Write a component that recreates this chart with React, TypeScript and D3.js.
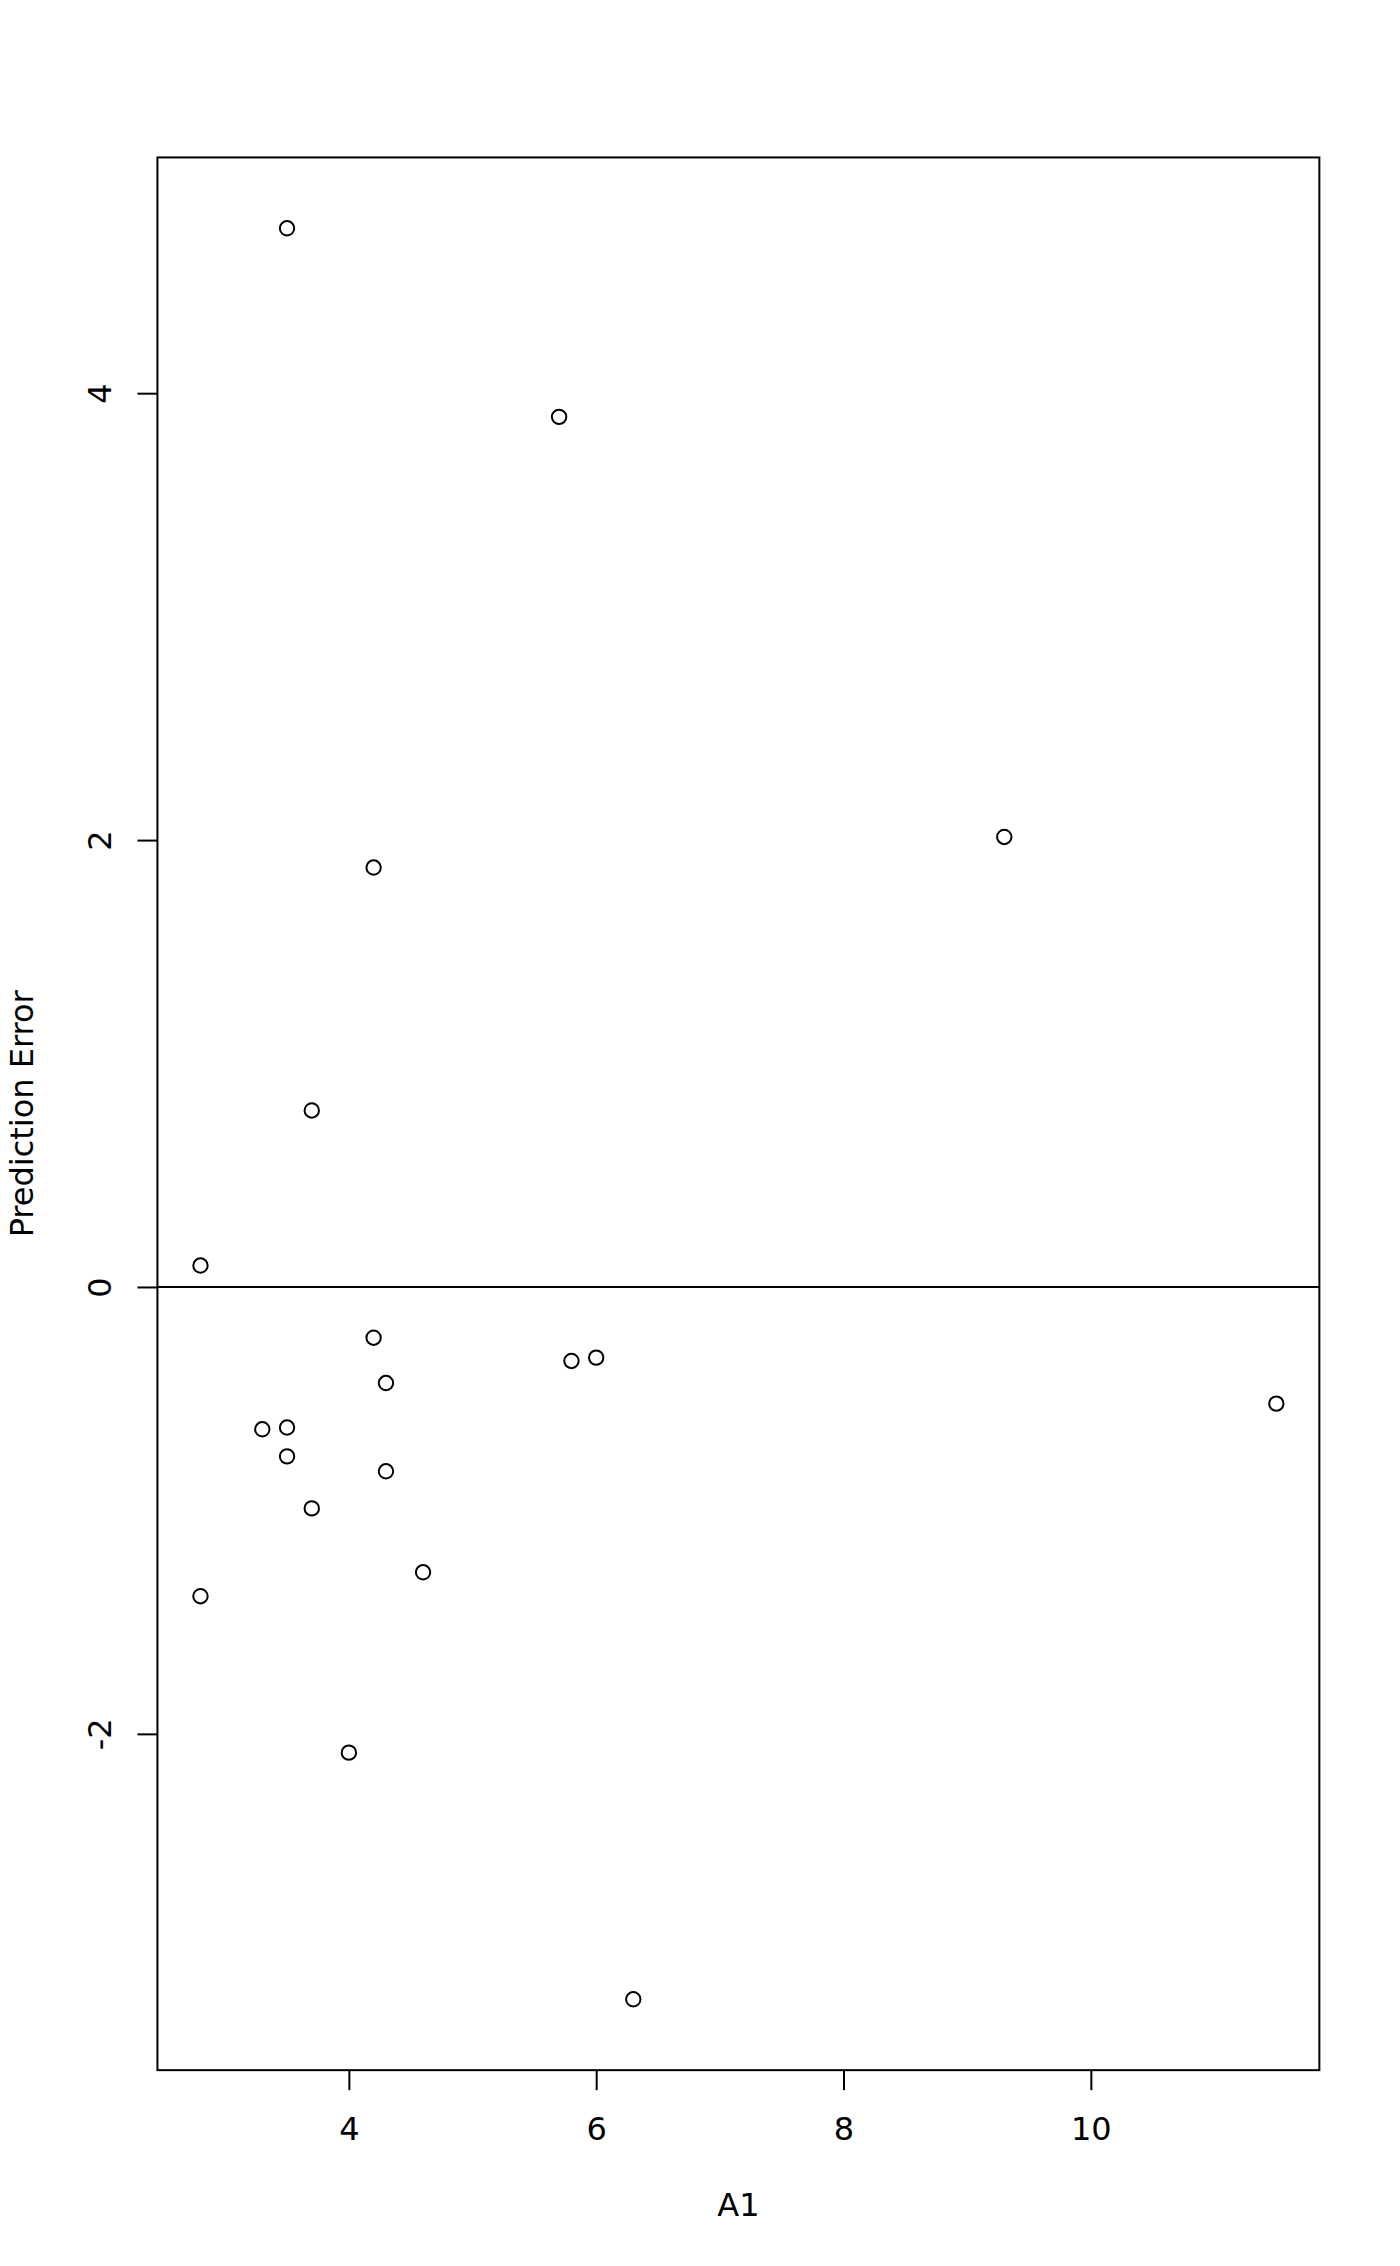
import React, { useEffect, useRef } from 'react';
import * as d3 from 'd3';

// A1 values and prediction errors
const a1 = [3.5, 5.7, 9.3, 4.2, 3.7, 2.8, 4.2, 4.3, 5.8, 6.0, 11.5, 3.3, 3.5, 3.5, 4.3, 3.7, 4.6, 2.8, 4.0, 6.3];
const predError = [4.738, 3.894, 2.014, 1.877, 0.79, 0.096, -0.227, -0.43, -0.331, -0.316, -0.522, -0.637, -0.629, -0.758, -0.825, -0.991, -1.277, -1.384, -2.084, -3.188];

const xTicks = [4, 6, 8, 10];
const yTicks = [-2, 0, 2, 4];

const xLabel = 'A1';
const yLabel = 'Prediction Error';

const App: React.FC = () => {
  const svgRef = useRef<SVGSVGElement>(null);

  useEffect(() => {
    if (!svgRef.current) return;
    d3.select(svgRef.current).selectAll('*').remove();

    const W = 1400;
    const H = 2266;
    const line = 38.4; // one margin line in px
    const margin = { top: 4.1 * line, right: 2.1 * line, bottom: 5.1 * line, left: 4.1 * line };
    const font = 'DejaVu Sans, sans-serif';
    const fontSize = 32;

    const svg = d3.select(svgRef.current).attr('width', W).attr('height', H);
    svg.append('rect').attr('width', W).attr('height', H).attr('fill', '#fff');

    // R style 4% padding on data range
    const pad = (ext: [number, number]): [number, number] => {
      const r = ext[1] - ext[0];
      return [ext[0] - 0.04 * r, ext[1] + 0.04 * r];
    };

    const x = d3
      .scaleLinear()
      .domain(pad(d3.extent(a1) as [number, number]))
      .range([margin.left, W - margin.right]);

    const y = d3
      .scaleLinear()
      .domain(pad(d3.extent(predError) as [number, number]))
      .range([H - margin.bottom, margin.top]);

    const plotBottom = H - margin.bottom;

    // X axis
    const xAxis = svg
      .append('g')
      .attr('transform', `translate(0,${plotBottom})`)
      .call(d3.axisBottom(x).tickValues(xTicks).tickSizeInner(20).tickSizeOuter(0).tickFormat(d => String(d)));
    xAxis.select('.domain').remove();
    xAxis.selectAll('line').attr('stroke', '#000').attr('stroke-width', 2);
    xAxis
      .selectAll('text')
      .attr('y', 70)
      .attr('dy', 0)
      .attr('fill', '#000')
      .attr('font-family', font)
      .attr('font-size', fontSize);

    // Y axis
    const yAxis = svg
      .append('g')
      .attr('transform', `translate(${margin.left},0)`)
      .call(d3.axisLeft(y).tickValues(yTicks).tickSizeInner(20).tickSizeOuter(0).tickFormat(d => String(d)));
    yAxis.select('.domain').remove();
    yAxis.selectAll('line').attr('stroke', '#000').attr('stroke-width', 2);
    yAxis
      .selectAll('text')
      .attr('transform', 'rotate(-90)')
      .attr('x', 0)
      .attr('y', -46.8)
      .attr('dy', 0)
      .attr('text-anchor', 'middle')
      .attr('fill', '#000')
      .attr('font-family', font)
      .attr('font-size', fontSize);

    // Horizontal reference line at 0
    svg
      .append('line')
      .attr('x1', margin.left)
      .attr('x2', W - margin.right)
      .attr('y1', y(0))
      .attr('y2', y(0))
      .attr('stroke', '#000')
      .attr('stroke-width', 2);

    // Points
    svg
      .selectAll('circle.pt')
      .data(a1)
      .enter()
      .append('circle')
      .attr('class', 'pt')
      .attr('cx', d => x(d))
      .attr('cy', (_, i) => y(predError[i]))
      .attr('r', 7.2)
      .attr('fill', 'none')
      .attr('stroke', '#000')
      .attr('stroke-width', 2);

    // Plot box
    svg
      .append('rect')
      .attr('x', margin.left)
      .attr('y', margin.top)
      .attr('width', W - margin.left - margin.right)
      .attr('height', H - margin.top - margin.bottom)
      .attr('fill', 'none')
      .attr('stroke', '#000')
      .attr('stroke-width', 2);

    // Axis titles
    svg
      .append('text')
      .attr('x', (margin.left + W - margin.right) / 2)
      .attr('y', 2216)
      .attr('text-anchor', 'middle')
      .attr('font-family', font)
      .attr('font-size', fontSize)
      .attr('fill', '#000')
      .text(xLabel);

    svg
      .append('text')
      .attr('transform', `translate(33.3,${(margin.top + plotBottom) / 2}) rotate(-90)`)
      .attr('text-anchor', 'middle')
      .attr('font-family', font)
      .attr('font-size', fontSize)
      .attr('fill', '#000')
      .text(yLabel);
  }, []);

  return (
    <div style={{ position: 'absolute', left: 0, top: 0, width: 1400, height: 2266 }}>
      <svg ref={svgRef} style={{ display: 'block' }}></svg>
    </div>
  );
};

export default App;
